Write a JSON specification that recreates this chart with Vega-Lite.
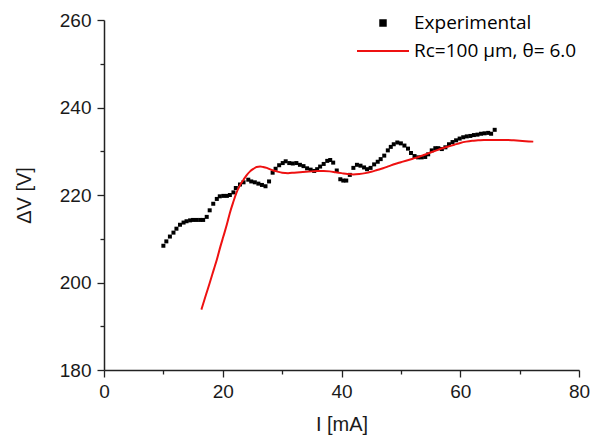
{
  "$schema": "https://vega.github.io/schema/vega-lite/v6.json",
  "autosize": {"type": "none"},
  "padding": {"left": 104, "top": 20, "right": 12, "bottom": 65},
  "width": 475,
  "height": 350,
  "background": "white",
  "config": {
    "view": {"stroke": null},
    "axis": {
      "labelFont": "Liberation Sans",
      "labelFontSize": 19,
      "labelColor": "#1a1a1a",
      "titleFont": "Liberation Sans",
      "titleFontSize": 20,
      "titleFontWeight": "normal",
      "titleColor": "#1a1a1a",
      "domainColor": "#222222",
      "domainWidth": 1.5,
      "tickColor": "#222222",
      "tickWidth": 1.3,
      "grid": false
    }
  },
  "datasets": {
    "exp": [
      {"I": 10.0, "V": 208.4}, {"I": 10.5, "V": 209.4}, {"I": 11.1, "V": 210.5}, {"I": 11.7, "V": 211.4},
      {"I": 12.2, "V": 212.3}, {"I": 12.8, "V": 213.2}, {"I": 13.4, "V": 213.7}, {"I": 13.9, "V": 214.0},
      {"I": 14.5, "V": 214.2}, {"I": 15.0, "V": 214.3}, {"I": 15.6, "V": 214.3}, {"I": 16.2, "V": 214.3},
      {"I": 16.7, "V": 214.3}, {"I": 17.3, "V": 215.0}, {"I": 17.8, "V": 216.5}, {"I": 18.4, "V": 218.0},
      {"I": 19.0, "V": 219.1}, {"I": 19.5, "V": 219.7}, {"I": 20.1, "V": 219.8}, {"I": 20.7, "V": 219.8},
      {"I": 21.2, "V": 220.0}, {"I": 21.8, "V": 220.6}, {"I": 22.2, "V": 221.6}, {"I": 22.9, "V": 222.4},
      {"I": 23.5, "V": 222.9}, {"I": 24.3, "V": 223.5}, {"I": 24.8, "V": 223.1}, {"I": 25.4, "V": 222.9},
      {"I": 26.0, "V": 222.6}, {"I": 26.6, "V": 222.3}, {"I": 27.2, "V": 222.0}, {"I": 27.8, "V": 223.1},
      {"I": 28.4, "V": 225.1}, {"I": 28.9, "V": 226.0}, {"I": 29.5, "V": 226.8}, {"I": 30.1, "V": 227.3},
      {"I": 30.6, "V": 227.7}, {"I": 31.2, "V": 227.3}, {"I": 31.8, "V": 227.2}, {"I": 32.4, "V": 227.3},
      {"I": 33.0, "V": 226.9}, {"I": 33.6, "V": 226.6}, {"I": 34.2, "V": 226.1}, {"I": 34.8, "V": 225.8},
      {"I": 35.4, "V": 225.5}, {"I": 35.9, "V": 225.9}, {"I": 36.4, "V": 226.5}, {"I": 37.0, "V": 227.1},
      {"I": 37.6, "V": 227.8}, {"I": 38.1, "V": 228.0}, {"I": 38.6, "V": 227.4}, {"I": 39.2, "V": 225.6},
      {"I": 39.8, "V": 223.6}, {"I": 40.3, "V": 223.3}, {"I": 40.8, "V": 223.3}, {"I": 41.4, "V": 224.6},
      {"I": 42.0, "V": 226.2}, {"I": 42.6, "V": 226.9}, {"I": 43.2, "V": 226.7}, {"I": 43.8, "V": 226.3},
      {"I": 44.3, "V": 225.9}, {"I": 44.9, "V": 226.2}, {"I": 45.5, "V": 227.0}, {"I": 46.1, "V": 227.6},
      {"I": 46.6, "V": 228.2}, {"I": 47.2, "V": 229.0}, {"I": 47.8, "V": 230.2}, {"I": 48.3, "V": 231.0},
      {"I": 48.8, "V": 231.6}, {"I": 49.4, "V": 232.0}, {"I": 50.0, "V": 231.8}, {"I": 50.6, "V": 231.3},
      {"I": 51.2, "V": 230.6}, {"I": 51.7, "V": 229.6}, {"I": 52.3, "V": 228.9}, {"I": 52.9, "V": 228.6},
      {"I": 53.5, "V": 228.6}, {"I": 54.1, "V": 228.7}, {"I": 54.6, "V": 229.3}, {"I": 55.2, "V": 230.2},
      {"I": 55.8, "V": 230.7}, {"I": 56.3, "V": 230.7}, {"I": 56.9, "V": 230.5}, {"I": 57.5, "V": 230.9},
      {"I": 58.1, "V": 231.6}, {"I": 58.7, "V": 232.1}, {"I": 59.3, "V": 232.5}, {"I": 59.9, "V": 232.9},
      {"I": 60.5, "V": 233.2}, {"I": 61.1, "V": 233.4}, {"I": 61.7, "V": 233.5}, {"I": 62.3, "V": 233.7},
      {"I": 62.9, "V": 233.8}, {"I": 63.5, "V": 234.0}, {"I": 64.1, "V": 234.1}, {"I": 64.7, "V": 234.2},
      {"I": 65.2, "V": 234.0}, {"I": 65.8, "V": 234.9}
    ],
    "model": [
      {"I": 16.4, "V": 193.8}, {"I": 17.2, "V": 197.3}, {"I": 17.8, "V": 199.9}, {"I": 18.5, "V": 203.0},
      {"I": 19.0, "V": 205.2}, {"I": 19.6, "V": 208.2}, {"I": 20.1, "V": 210.5}, {"I": 20.7, "V": 213.3},
      {"I": 21.2, "V": 215.9}, {"I": 21.8, "V": 218.5}, {"I": 22.3, "V": 220.5}, {"I": 22.9, "V": 222.2},
      {"I": 23.5, "V": 223.5}, {"I": 24.0, "V": 224.5}, {"I": 24.6, "V": 225.4}, {"I": 25.2, "V": 226.0},
      {"I": 25.7, "V": 226.4}, {"I": 26.3, "V": 226.5}, {"I": 26.8, "V": 226.4}, {"I": 27.4, "V": 226.2},
      {"I": 27.9, "V": 225.9}, {"I": 28.5, "V": 225.6}, {"I": 29.1, "V": 225.4}, {"I": 30.0, "V": 225.1},
      {"I": 31.0, "V": 225.0}, {"I": 32.0, "V": 225.1}, {"I": 33.0, "V": 225.2}, {"I": 34.0, "V": 225.3},
      {"I": 35.0, "V": 225.4}, {"I": 36.0, "V": 225.5}, {"I": 37.0, "V": 225.5}, {"I": 38.0, "V": 225.4},
      {"I": 39.0, "V": 225.2}, {"I": 40.0, "V": 225.0}, {"I": 41.0, "V": 224.8}, {"I": 42.0, "V": 224.7},
      {"I": 43.0, "V": 224.8}, {"I": 44.0, "V": 225.0}, {"I": 45.0, "V": 225.3}, {"I": 46.0, "V": 225.7},
      {"I": 47.0, "V": 226.1}, {"I": 48.0, "V": 226.6}, {"I": 49.0, "V": 227.1}, {"I": 50.0, "V": 227.5},
      {"I": 51.0, "V": 227.9}, {"I": 52.0, "V": 228.3}, {"I": 53.0, "V": 228.7}, {"I": 54.0, "V": 229.2},
      {"I": 55.0, "V": 229.7}, {"I": 56.0, "V": 230.2}, {"I": 57.0, "V": 230.7}, {"I": 58.0, "V": 231.1},
      {"I": 59.0, "V": 231.5}, {"I": 60.0, "V": 231.9}, {"I": 61.0, "V": 232.2}, {"I": 62.0, "V": 232.4},
      {"I": 63.0, "V": 232.5}, {"I": 64.0, "V": 232.6}, {"I": 65.0, "V": 232.6}, {"I": 66.0, "V": 232.6},
      {"I": 67.0, "V": 232.6}, {"I": 68.0, "V": 232.6}, {"I": 69.0, "V": 232.5}, {"I": 70.0, "V": 232.4},
      {"I": 71.0, "V": 232.3}, {"I": 72.3, "V": 232.2}
    ]
  },
  "encoding": {
    "x": {
      "field": "I", "type": "quantitative",
      "scale": {"domain": [0, 80], "nice": false, "zero": false},
      "axis": {
        "title": "I [mA]",
        "values": [0, 10, 20, 30, 40, 50, 60, 70, 80],
        "labelExpr": "datum.value % 20 === 0 ? datum.label : ''",
        "tickSize": {"condition": {"test": "datum.value % 20 === 0", "value": 7}, "value": 4},
        "labelPadding": 5,
        "titlePadding": 13,
        "labelFlush": false
      }
    },
    "y": {
      "field": "V", "type": "quantitative",
      "scale": {"domain": [180, 260], "nice": false, "zero": false},
      "axis": {
        "title": "ΔV [V]",
        "values": [180, 190, 200, 210, 220, 230, 240, 250, 260],
        "labelExpr": "datum.value % 20 === 0 ? datum.label : ''",
        "tickSize": {"condition": {"test": "datum.value % 20 === 0", "value": 7}, "value": 4},
        "labelPadding": 6,
        "titlePadding": 25,
        "labelFlush": false
      }
    },
    "color": {
      "field": "series", "type": "nominal",
      "scale": {"domain": ["Experimental", "Rc=100 μm, θ= 6.0"], "range": ["black", "#ee1111"]},
      "legend": {
        "title": null,
        "orient": "none",
        "legendX": 252,
        "legendY": -7,
        "padding": 0,
        "symbolSize": 2704,
        "clipHeight": 20,
        "labelFont": "Open Sans",
        "labelFontSize": 19,
        "labelLimit": 400,
        "labelColor": "black",
        "labelOffset": 4,
        "rowPadding": 8,
        "encode": {
          "symbols": {
            "update": {
              "shape": {"signal": "datum.value === 'Experimental' ? 'square' : 'stroke'"},
              "size": {"signal": "datum.value === 'Experimental' ? 30 : 2704"},
              "fill": {"signal": "datum.value === 'Experimental' ? 'black' : 'transparent'"},
              "stroke": {"signal": "datum.value === 'Experimental' ? 'transparent' : '#ee1111'"},
              "strokeWidth": {"value": 2},
              "opacity": {"value": 1}
            }
          }
        }
      }
    }
  },
  "layer": [
    {
      "data": {"name": "exp"},
      "transform": [{"calculate": "'Experimental'", "as": "series"}],
      "mark": {"type": "point", "shape": "square", "filled": true, "size": 16, "opacity": 1}
    },
    {
      "data": {"name": "model"},
      "transform": [{"calculate": "'Rc=100 μm, θ= 6.0'", "as": "series"}],
      "mark": {"type": "line", "strokeWidth": 2, "interpolate": "monotone"}
    }
  ]
}
